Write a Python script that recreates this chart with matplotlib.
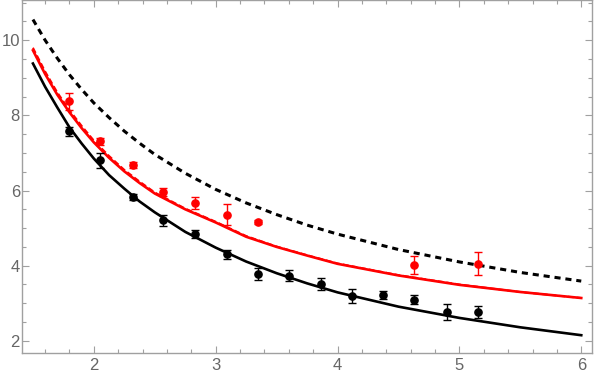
import numpy as np
import matplotlib.pyplot as plt
from matplotlib.ticker import MultipleLocator

# measured points (black and red sets)
x_black = [1.80, 2.05, 2.32, 2.57, 2.83, 3.09, 3.35, 3.60, 3.86, 4.12, 4.37, 4.63, 4.90, 5.15]
y_black = [7.58, 6.81, 5.83, 5.21, 4.84, 4.31, 3.78, 3.73, 3.51, 3.19, 3.22, 3.10, 2.77, 2.77]
e_black = [0.12, 0.20, 0.07, 0.15, 0.10, 0.12, 0.17, 0.15, 0.17, 0.18, 0.10, 0.12, 0.22, 0.15]

x_red = [1.80, 2.05, 2.32, 2.57, 2.83, 3.09, 3.35, 4.63, 5.15]
y_red = [8.37, 7.31, 6.67, 5.96, 5.67, 5.35, 5.16, 4.02, 4.05]
e_red = [0.23, 0.10, 0.08, 0.10, 0.15, 0.28, 0.05, 0.24, 0.31]

# curves
x_curve = [1.5, 1.6, 1.7, 1.8, 1.9, 2.0, 2.125, 2.25, 2.375, 2.5, 2.75,
           3.0, 3.25, 3.5, 3.75, 4.0, 4.5, 5.0, 5.5, 6.0]
y_black_solid = [9.38, 8.76, 8.21, 7.68, 7.25, 6.85, 6.41, 6.05, 5.71, 5.42, 4.90,
                 4.48, 4.11, 3.80, 3.53, 3.29, 2.91, 2.61, 2.36, 2.15]
y_red_solid = [9.73, 9.10, 8.55, 8.08, 7.66, 7.28, 6.87, 6.51, 6.20, 5.92, 5.50,
               5.15, 4.77, 4.50, 4.27, 4.05, 3.74, 3.49, 3.30, 3.14]
y_red_dashed = [9.80, 9.17, 8.61, 8.14, 7.72, 7.33, 6.92, 6.55, 6.24, 5.95, 5.52,
                5.17, 4.79, 4.51, 4.28, 4.06, 3.75, 3.50, 3.30, 3.14]
y_black_dashed = [10.55, 10.00, 9.52, 9.08, 8.69, 8.33, 7.94, 7.58, 7.26, 6.96, 6.46,
                  6.03, 5.67, 5.36, 5.08, 4.84, 4.43, 4.10, 3.82, 3.59]

fig = plt.figure(figsize=(5.94, 3.77), dpi=100)
ax = fig.add_axes([0.037, 0.064, 0.96, 0.935])

ax.plot(x_curve, y_black_dashed, color='black', lw=2.2, ls=(0, (2.0, 1.6)), zorder=2)
ax.plot(x_curve, y_black_solid, color='black', lw=1.9, zorder=2)
ax.plot(x_curve, y_red_dashed, color='#ff0000', lw=1.4, ls=(0, (3, 1.5)), zorder=2)
ax.plot(x_curve, y_red_solid, color='#ff0000', lw=1.9, zorder=2)

ax.errorbar(x_black, y_black, yerr=e_black, fmt='o', color='black', ms=5.2,
            elinewidth=1.0, capsize=3.2, capthick=1.0, zorder=3)
ax.errorbar(x_red, y_red, yerr=e_red, fmt='o', color='#ff0000', ms=5.2,
            elinewidth=1.0, capsize=3.2, capthick=1.0, zorder=3)

ax.set_xlim(1.41, 6.09)
ax.set_ylim(1.68, 11.06)

ax.xaxis.set_major_locator(MultipleLocator(1))
ax.xaxis.set_minor_locator(MultipleLocator(0.2))
ax.yaxis.set_major_locator(MultipleLocator(2))
ax.yaxis.set_minor_locator(MultipleLocator(0.5))

grey = '#a0a0a0'
for s in ax.spines.values():
    s.set_color(grey)
    s.set_linewidth(1.0)
ax.tick_params(which='both', direction='in', top=True, right=True, color=grey,
               labelcolor='#666666', labelsize=12, width=0.8)
ax.tick_params(which='major', length=5)
ax.tick_params(which='minor', length=3)
ax.tick_params(axis='x', which='major', pad=4)
ax.tick_params(axis='y', which='major', pad=1.5)
for lab in ax.get_xticklabels() + ax.get_yticklabels():
    lab.set_family('Liberation Sans')

fig.savefig('out.png', dpi=100)
